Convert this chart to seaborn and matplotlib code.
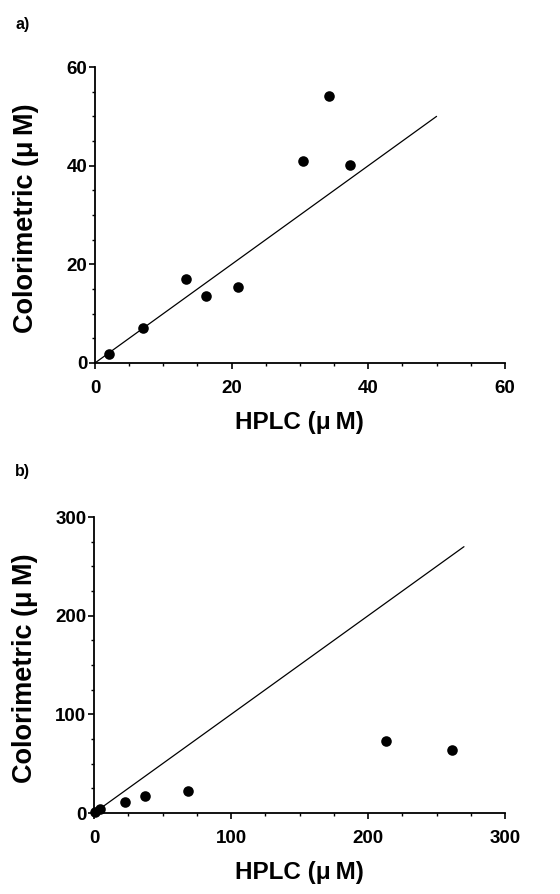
import matplotlib
matplotlib.use("Agg")
import matplotlib.pyplot as plt
from matplotlib.ticker import MultipleLocator
import seaborn as sns
import pandas as pd

# panel a: HPLC vs colorimetric (uM)
hplc_a = [2.0, 7.1, 13.3, 16.2, 21.0, 30.5, 34.3, 37.4]
color_a = [1.9, 7.0, 17.0, 13.5, 15.4, 41.0, 54.2, 40.1]
line_a = [0, 50]

# panel b
hplc_b = [1.0, 4.5, 22.6, 37.2, 68.9, 213.0, 261.6]
color_b = [1.0, 4.0, 10.8, 17.5, 22.6, 73.5, 63.4]
line_b = [0, 270]

sns.set_style("ticks", {'text.color': 'black', 'axes.labelcolor': 'black',
                        'xtick.color': 'black', 'ytick.color': 'black',
                        'axes.edgecolor': 'black'})
plt.rcParams['font.family'] = ['Liberation Sans', 'DejaVu Sans']
plt.rcParams['font.weight'] = 'bold'

fig = plt.figure(figsize=(5.6, 8.94), dpi=100)
ax_a = fig.add_axes([0.1696, 0.594, 0.732, 0.331])
ax_b = fig.add_axes([0.1679, 0.0906, 0.734, 0.331])

label = 'HPLC (\u03bc\u2009M)'
ylabel = 'Colorimetric (\u03bc\u2009M)'


def draw_panel(ax, x, y, line, lim, major, minor, letter, letter_pos):
    df = pd.DataFrame({'x': x, 'y': y})
    ldf = pd.DataFrame({'x': line, 'y': line})
    sns.lineplot(data=ldf, x='x', y='y', ax=ax, color='black', linewidth=0.9)
    sns.scatterplot(data=df, x='x', y='y', ax=ax, color='black', s=58,
                    edgecolor='black', linewidth=0, zorder=3, clip_on=False)
    ax.set_xlim(0, lim)
    ax.set_ylim(0, lim)
    ax.xaxis.set_major_locator(MultipleLocator(major))
    ax.yaxis.set_major_locator(MultipleLocator(major))
    ax.xaxis.set_minor_locator(MultipleLocator(minor))
    ax.yaxis.set_minor_locator(MultipleLocator(minor))
    ax.tick_params(which='major', length=4, width=1.2, labelsize=13.5)
    ax.tick_params(which='minor', length=2.5, width=1.0)
    ax.tick_params(axis='x', which='major', pad=8.5)
    ax.tick_params(axis='y', which='major', pad=1.5)
    for lab in ax.get_xticklabels() + ax.get_yticklabels():
        lab.set_fontweight('bold')
    for s in ['left', 'bottom']:
        ax.spines[s].set_linewidth(1.3)
    sns.despine(ax=ax)
    ax.set_xlabel(label, fontsize=17.5, fontweight='bold')
    ax.set_ylabel(ylabel, fontsize=19.5, fontweight='bold')
    ax.xaxis.set_label_coords(0.5, -0.163)
    ax.yaxis.set_label_coords(-0.137, 0.49)
    ax.text(letter_pos[0], letter_pos[1], letter, transform=ax.transAxes,
            fontsize=11.5, fontweight='bold', ha='left', va='center')


draw_panel(ax_a, hplc_a, color_a, line_a, 60, 20, 5, 'a)', (-0.195, 1.145))
draw_panel(ax_b, hplc_b, color_b, line_b, 300, 100, 25, 'b)', (-0.192, 1.155))

fig.savefig('out.png', dpi=100)
